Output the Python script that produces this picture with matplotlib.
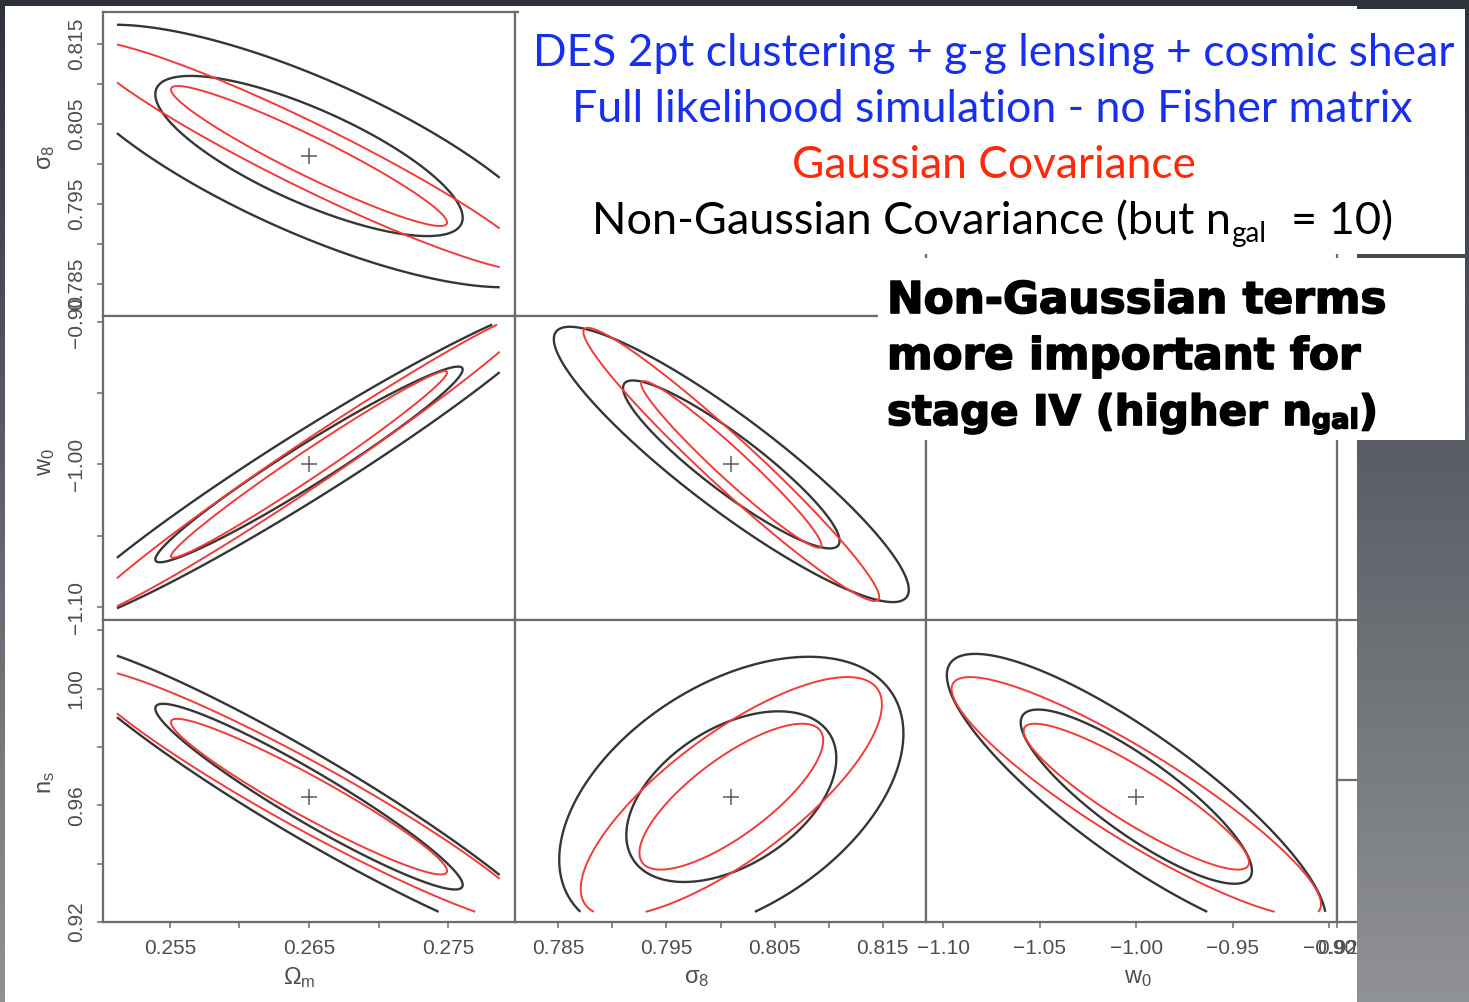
import numpy as np
import matplotlib
matplotlib.use('Agg')
import matplotlib.pyplot as plt
import matplotlib.patheffects as pe
from matplotlib.patches import Rectangle
from matplotlib.lines import Line2D

plt.rcParams['font.family'] = ['Liberation Sans', 'DejaVu Sans']
plt.rcParams['mathtext.fontset'] = 'custom'
plt.rcParams['mathtext.rm'] = 'Liberation Sans'
plt.rcParams['mathtext.it'] = 'Liberation Sans'
plt.rcParams['mathtext.bf'] = 'Liberation Sans:bold'

W, H = 1469, 1002

# parameters: Omega_m, sigma_8, w0, n_s
param_names = [r'$\Omega_m$', r'$\sigma_8$', r'$w_0$', r'$n_s$']
fiducial = [0.265, 0.801, -1.00, 0.963]
prior_lo = [0.2512, 0.7815, -1.101, 0.9235]
prior_hi = [0.2787, 0.8185, -0.902, 1.0195]
axis_lo = [0.2502, 0.7810, -1.109, 0.9200]
axis_hi = [0.2798, 0.8190, -0.896, 1.0236]

om_ticks = [0.255, 0.260, 0.265, 0.270, 0.275]
om_labels = ['0.255', '', '0.265', '', '0.275']
s8_ticks = [0.785, 0.790, 0.795, 0.800, 0.805, 0.810, 0.815]
s8_labels = ['0.785', '', '0.795', '', '0.805', '', '0.815']
w0_ticks = [-1.10, -1.05, -1.00, -0.95, -0.90]
w0_xlabels = ['\u22121.10', '\u22121.05', '\u22121.00', '\u22120.95', '\u22120.90']
w0_ylabels = ['\u22121.10', '', '\u22121.00', '', '\u22120.90']
ns_ticks = [0.92, 0.94, 0.96, 0.98, 1.00, 1.02]
ns_labels = ['0.92', '', '0.96', '', '1.00', '']

xtick_sets = [(om_ticks, om_labels), (s8_ticks, s8_labels), (w0_ticks, w0_xlabels), (ns_ticks, ns_labels)]
ytick_sets = [(om_ticks, om_labels), (s8_ticks, s8_labels), (w0_ticks, w0_ylabels), (ns_ticks, ns_labels)]

# 2D marginals (x param, y param): sigma_x, sigma_y, correlation
pairs = [(0, 1), (0, 2), (0, 3), (1, 2), (1, 3), (2, 3)]
gauss_sx = [0.00654, 0.00654, 0.00654, 0.0055, 0.0056, 0.0385]
gauss_sy = [0.00577, 0.0431, 0.0176, 0.0385, 0.0165, 0.0165]
gauss_rho = [-0.95, 0.985, -0.955, -0.97, 0.77, -0.90]
nongauss_sx = [0.00728, 0.00728, 0.00728, 0.0066, 0.0064, 0.0395]
nongauss_sy = [0.0066, 0.0452, 0.0210, 0.0388, 0.0193, 0.0197]
nongauss_rho = [-0.77, 0.97, -0.95, -0.91, 0.45, -0.85]

# delta chi^2 for 68.3% and 95.4% (2 parameters)
conf_levels = [2.30, 6.18]

FRAME = '#6c6c6c'
BLACK_LINE = '#363636'
RED_LINE = '#f23a3a'

fig = plt.figure(figsize=(W / 100, H / 100), dpi=100)


def px_rect(x0, y0, x1, y1):
    return [x0 / W, 1 - y1 / H, (x1 - x0) / W, (y1 - y0) / H]


def add_box(x0, y0, x1, y1, zorder, color='white'):
    fig.add_artist(Rectangle((x0 / W, 1 - y1 / H), (x1 - x0) / W, (y1 - y0) / H,
                             transform=fig.transFigure, facecolor=color, edgecolor='none',
                             zorder=zorder))


def gradient(y0, y1):
    top = np.array([0.18, 0.196, 0.23])
    bottom = np.array([0.565, 0.573, 0.59])
    t = (np.arange(y0, y1) / H)[:, None, None]
    return top + (bottom - top) * t


# slide background
bg = fig.add_axes([0, 0, 1, 1], zorder=-10)
bg.imshow(gradient(0, H), aspect='auto', extent=[0, 1, 0, 1])
bg.axis('off')

# white sheet of the plot
add_box(5, 6, 1357, 1002, -5)


def chi2_grid(k, ix, iy, sx, sy, rho):
    x = np.linspace(prior_lo[ix], prior_hi[ix], 500)
    y = np.linspace(prior_lo[iy], prior_hi[iy], 500)
    X, Y = np.meshgrid(x, y)
    u = (X - fiducial[ix]) / sx[k]
    v = (Y - fiducial[iy]) / sy[k]
    return X, Y, (u * u - 2 * rho[k] * u * v + v * v) / (1 - rho[k] ** 2)


def style_axes(ax):
    for sp in ax.spines.values():
        sp.set_color(FRAME)
        sp.set_linewidth(1.6)
    ax.tick_params(direction='out', length=4.5, width=1.1, color=FRAME,
                   labelsize=15, labelcolor='#4e4e4e', pad=8)
    ax.set_xticks([])
    ax.set_yticks([])


col_x = [103, 515, 926, 1337]
row_y = [12, 316, 620, 922]
row_param = [1, 2, 3]
col_param = [0, 1, 2]

for r in range(3):
    for c in range(3):
        ax = fig.add_axes(px_rect(col_x[c], row_y[r], col_x[c + 1], row_y[r + 1]))
        style_axes(ax)
        ix, iy = col_param[c], row_param[r]
        ax.set_xlim(axis_lo[ix], axis_hi[ix])
        ax.set_ylim(axis_lo[iy], axis_hi[iy])
        if c > r:
            continue
        k = pairs.index((ix, iy))
        X, Y, z = chi2_grid(k, ix, iy, nongauss_sx, nongauss_sy, nongauss_rho)
        ax.contour(X, Y, z, levels=conf_levels, colors=BLACK_LINE, linewidths=1.7, zorder=2)
        X, Y, z = chi2_grid(k, ix, iy, gauss_sx, gauss_sy, gauss_rho)
        ax.contour(X, Y, z, levels=conf_levels, colors=RED_LINE, linewidths=1.4, zorder=3)
        ax.plot(fiducial[ix], fiducial[iy], marker='+', ms=11, mew=1.1, color='#5a5a5a', zorder=4)
        if c == 0:
            t, lab = ytick_sets[iy]
            ax.set_yticks(t)
            ax.set_yticklabels(lab)
            ax.tick_params(axis='y', labelrotation=90)
            for tl in ax.get_yticklabels():
                tl.set_verticalalignment('center')
        if r == 2:
            t, lab = xtick_sets[ix]
            ax.set_xticks(t)
            ax.set_xticklabels(lab)

# next column (n_s) of the bottom row, only its left edge is on the sheet
ax4 = fig.add_axes(px_rect(1337, 620, 1748, 922))
style_axes(ax4)
ax4.set_xlim(axis_lo[3], axis_hi[3])
ax4.set_xticks(ns_ticks[:1])
ax4.set_xticklabels(ns_labels[:1])
fig.add_artist(Line2D([1337 / W, 1357 / W], [1 - 780 / H] * 2, color=FRAME, lw=1.6, zorder=1))

# axis titles
for name, xc in zip(param_names[:3], [299, 697, 1138]):
    fig.text(xc / W, 1 - 978 / H, name, fontsize=17, color='#4e4e4e', ha='center', va='center')
for name, yc in zip(param_names[1:], [157, 462, 783]):
    fig.text(46 / W, 1 - yc / H, name, fontsize=17, color='#4e4e4e', ha='center', va='center',
             rotation=90)

# background strip to the right of the sheet
strip = fig.add_axes(px_rect(1357, 440, W, H), zorder=5)
strip.imshow(gradient(440, H), aspect='auto', extent=[0, 1, 0, 1])
strip.axis('off')

# annotation boxes
add_box(519, 9, 1465, 254, 10)
add_box(878, 258, 1465, 440, 10)

renderer = fig.canvas.get_renderer()


def text_runs(runs, x0, x1, baseline, color, family, weight='normal', stroke=0):
    # runs: (text, relative size, downward shift in em, gap before in em)
    probe = 40.0
    effects = [pe.withStroke(linewidth=stroke, foreground=color)] if stroke else None
    arts = []
    for s, k, dy, gap in runs:
        arts.append(fig.text(0, 0, s, fontsize=probe * k, color=color, fontweight=weight,
                             family=family, ha='left', va='baseline',
                             zorder=12, path_effects=effects))
    widths = [a.get_window_extent(renderer).width for a in arts]
    gaps = [gap * probe * 100 / 72 for _, _, _, gap in runs]
    scale = (x1 - x0) / (sum(widths) + sum(gaps))
    size = probe * scale
    x = x0
    for a, (s, k, dy, gap), w, g in zip(arts, runs, widths, gaps):
        x += g * scale
        a.set_fontsize(size * k)
        a.set_position((x / W, 1 - (baseline + dy * size * 100 / 72) / H))
        x += w * scale


LIGHT = ['Lato', 'DejaVu Sans']
HEAVY = ['DejaVu Sans']
BLUE = '#1730f0'
text_runs([('DES 2pt clustering + g-g lensing + cosmic shear', 1, 0, 0)], 533, 1452, 66, BLUE, LIGHT)
text_runs([('Full likelihood simulation - no Fisher matrix', 1, 0, 0)], 572, 1414, 122, BLUE, LIGHT)
text_runs([('Gaussian Covariance', 1, 0, 0)], 792, 1195, 178, '#ff2a0c', LIGHT)
text_runs([('Non-Gaussian Covariance (but n', 1, 0, 0), ('gal', 0.62, 0.18, 0),
           ('= 10)', 1, 0, 0.55)], 592, 1393, 234, 'black', LIGHT)

text_runs([('Non-Gaussian terms', 1, 0, 0)], 887, 1386, 313, 'black', HEAVY, 'bold', 1.2)
text_runs([('more important for', 1, 0, 0)], 887, 1360, 369, 'black', HEAVY, 'bold', 1.2)
text_runs([('stage IV (higher n', 1, 0, 0), ('gal', 0.65, 0.08, 0),
           (')', 1, 0, 0)], 887, 1378, 425, 'black', HEAVY, 'bold', 1.2)

fig.savefig('out.png', dpi=100)
